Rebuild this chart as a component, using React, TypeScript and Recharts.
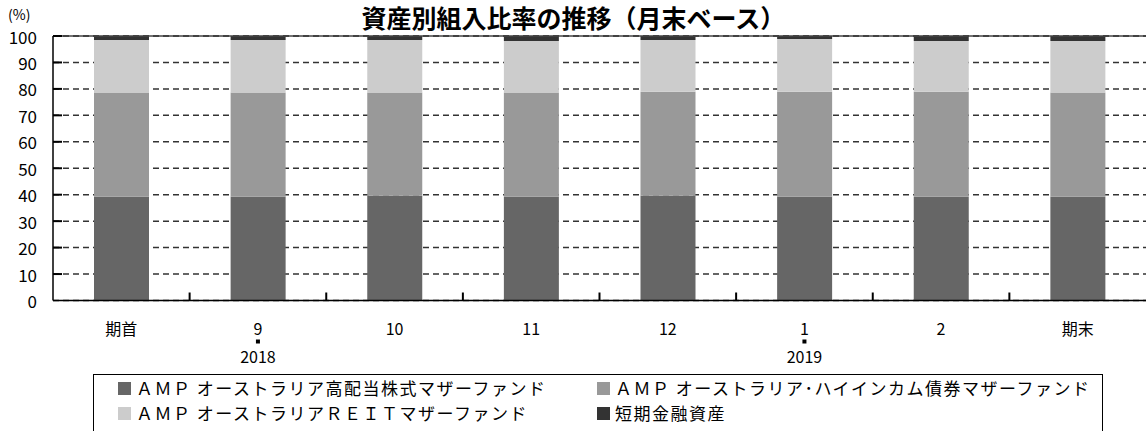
import React from 'react';
import { BarChart, Bar, XAxis, YAxis, CartesianGrid, ReferenceLine } from 'recharts';

const categories = ['期首', '9', '10', '11', '12', '1', '2', '期末'];
const yearLabels = ['', '2018', '', '', '', '2019', '', ''];
const seriesNames = [
  'ＡＭＰ オーストラリア高配当株式マザーファンド',
  'ＡＭＰ オーストラリア･ハイインカム債券マザーファンド',
  'ＡＭＰ オーストラリアＲＥＩＴマザーファンド',
  '短期金融資産',
];
const highDividend = [39.2, 39.2, 39.6, 39.2, 39.6, 39.2, 39.2, 39.2];
const highIncome = [39.4, 39.4, 39.0, 39.4, 39.3, 39.7, 39.7, 39.4];
const reit = [19.9, 19.9, 19.9, 19.5, 19.6, 20.0, 19.2, 19.5];
const shortTerm = [1.5, 1.5, 1.5, 1.9, 1.5, 1.1, 1.9, 1.9];
const yTicks = [0, 10, 20, 30, 40, 50, 60, 70, 80, 90, 100];
const colors = ['#666666', '#999999', '#cccccc', '#333333'];
const keys = ['a', 'b', 'c', 'd'];

const data = categories.map((c, i) => ({
  name: c,
  a: highDividend[i],
  b: highIncome[i],
  c: reit[i],
  d: shortTerm[i],
}));

const FONT = '"Noto Sans CJK JP", "Noto Sans", sans-serif';
const W = 1147;
const H = 431;
const LEFT = 53;
const RIGHT_MARGIN = 1;
const plotWidth = W - LEFT - RIGHT_MARGIN;
const bandWidth = plotWidth / categories.length;

const XTick = (props: any) => {
  const { x, y, payload, index } = props;
  const year = yearLabels[index];
  return (
    <g>
      <text x={x} y={y + 27} textAnchor="middle" dominantBaseline="central" fontSize={16} fill="#000" fontFamily={FONT}>
        {payload.value}
      </text>
      {year ? <rect x={x - 2} y={y + 39} width={4} height={4} fill="#000" /> : null}
      {year ? (
        <text x={x} y={y + 55} textAnchor="middle" dominantBaseline="central" fontSize={16} fill="#000" fontFamily={FONT}>
          {year}
        </text>
      ) : null}
      {index < categories.length - 1 ? (
        <line x1={x + bandWidth / 2} x2={x + bandWidth / 2} y1={y} y2={y - 8} stroke="#000" strokeWidth={2} />
      ) : null}
    </g>
  );
};

const YTick = (props: any) => {
  const { x, y, payload } = props;
  return (
    <g>
      <text x={x} y={y} textAnchor="end" dominantBaseline="central" fontSize={17} fill="#000" fontFamily={FONT}>
        {payload.value}
      </text>
      {payload.value > 0 ? <line x1={x + 16} x2={x + 25} y1={y} y2={y} stroke="#000" strokeWidth={2} /> : null}
    </g>
  );
};

export default function App() {
  return (
    <div style={{ position: 'absolute', left: 0, top: 0, width: W, height: H, overflow: 'hidden', background: '#fff', fontFamily: FONT }}>
      <BarChart
        width={W}
        height={H}
        data={data}
        margin={{ top: 36, right: RIGHT_MARGIN, bottom: 70.5, left: 0 }}
        barSize={55}
      >
        <CartesianGrid horizontal vertical={false} stroke="#333" strokeDasharray="6 4" strokeWidth={1.5} />
        <XAxis
          dataKey="name"
          height={60}
          tickLine={false}
          tickSize={0}
          tickMargin={0}
          axisLine={{ stroke: '#000', strokeWidth: 1.5 }}
          tick={<XTick />}
          interval={0}
        />
        <YAxis
          width={LEFT}
          domain={[0, 100]}
          ticks={yTicks}
          tickLine={false}
          tickSize={0}
          tickMargin={16}
          axisLine={{ stroke: '#000', strokeWidth: 1.5 }}
          tick={<YTick />}
          interval={0}
        />
        <YAxis yAxisId="r" orientation="right" width={0} domain={[0, 100]} tick={false} tickLine={false} axisLine={{ stroke: '#444', strokeWidth: 1 }} />
        <ReferenceLine y={100} stroke="#444" strokeWidth={1.5} />
        {keys.map((k, i) => (
          <Bar key={k} dataKey={k} name={seriesNames[i]} stackId="s" fill={colors[i]} isAnimationActive={false} />
        ))}
      </BarChart>
      <div style={{ position: 'absolute', left: 0, top: 3, width: W, textAlign: 'center', fontSize: 25, fontWeight: 'bold', lineHeight: '28px', color: '#000' }}>
        資産別組入比率の推移（月末ベース）
      </div>
      <div style={{ position: 'absolute', left: 8, top: 5, fontSize: 14, lineHeight: '18px', color: '#000' }}>(%)</div>
      <div style={{ position: 'absolute', left: 93, top: 374, width: 1010, height: 80, border: '1px solid #000', boxSizing: 'border-box' }}>
        {seriesNames.map((n, i) => (
          <div
            key={n}
            style={{
              position: 'absolute',
              left: i % 2 === 0 ? 24 : 503,
              top: i < 2 ? 2 : 27,
              display: 'flex',
              alignItems: 'center',
              fontSize: 17,
              letterSpacing: 1.5,
              lineHeight: '22px',
              color: '#000',
              whiteSpace: 'nowrap',
            }}
          >
            <span style={{ display: 'inline-block', width: 13, height: 13, background: colors[i], marginRight: 5 }} />
            <span>{n}</span>
          </div>
        ))}
      </div>
    </div>
  );
}
